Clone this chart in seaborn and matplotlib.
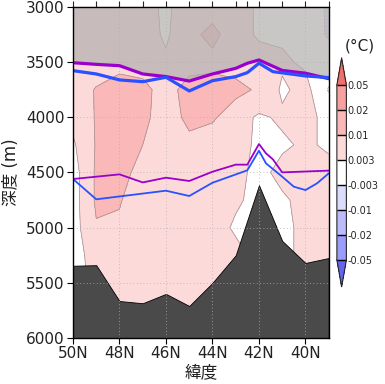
import numpy as np
import pandas as pd
import matplotlib
matplotlib.use("Agg")
import matplotlib.pyplot as plt
from matplotlib.colors import ListedColormap, BoundaryNorm
import seaborn as sns

# ---- datos ----
lats = [50, 49, 48, 47, 46, 45, 44, 43, 42, 41, 40, 39]
depths = [3000, 3250, 3500, 3750, 4000, 4250, 4500, 4750, 5000, 5250, 5500, 5750, 6000]
# anomalia de temperatura (grados C), filas = profundidad, columnas = latitud
temp = [
    [0.006, 0.006, 0.006, 0.005, 0.002, 0.006, 0.007, 0.006, 0.002, 0.002, 0.001, -0.004],
    [0.006, 0.005, 0.006, 0.006, 0.002, 0.008, 0.012, 0.006, 0.002, 0.002, 0.002, -0.004],
    [0.006, 0.006, 0.007, 0.007, 0.004, 0.007, 0.008, 0.007, 0.006, 0.004, 0.002, 0.001],
    [0.006, 0.0105, 0.014, 0.012, 0.007, 0.013, 0.013, 0.012, 0.009, 0.002, 0.005, -0.0035],
    [0.005, 0.0105, 0.013, 0.012, 0.006, 0.012, 0.011, 0.006, 0.002, 0.004, 0.005, 0.001],
    [0.002, 0.0105, 0.013, 0.010, 0.006, 0.008, 0.006, 0.005, 0.002, 0.002, 0.004, 0.002],
    [0.000, 0.011, 0.012, 0.008, 0.006, 0.006, 0.006, 0.005, 0.001, 0.005, 0.005, 0.005],
    [0.000, 0.011, 0.0105, 0.006, 0.006, 0.006, 0.006, 0.004, 0.001, 0.002, 0.005, 0.005],
    [0.000, 0.0095, 0.009, 0.006, 0.006, 0.006, 0.006, 0.002, 0.001, 0.001, 0.005, 0.005],
    [0.000, 0.006, 0.006, 0.006, 0.006, 0.006, 0.006, 0.005, 0.001, 0.001, 0.005, 0.005],
    [0.000, 0.005, 0.005, 0.006, 0.006, 0.006, 0.005, 0.005, 0.005, 0.005, 0.005, 0.005],
    [0.005, 0.005, 0.005, 0.005, 0.005, 0.005, 0.005, 0.005, 0.005, 0.005, 0.005, 0.005],
    [0.005, 0.005, 0.005, 0.005, 0.005, 0.005, 0.005, 0.005, 0.005, 0.005, 0.005, 0.005],
]
levels = [-0.05, -0.02, -0.01, -0.003, 0.003, 0.01, 0.02, 0.05]
level_labels = ["-0.05", "-0.02", "-0.01", "-0.003", "0.003", "0.01", "0.02", "0.05"]

bottom_lat = [50, 49, 48, 47, 46, 45, 44, 43, 42, 41, 40, 39]
bottom_depth = [5345, 5340, 5665, 5685, 5600, 5710, 5500, 5250, 4615, 5120, 5320, 5275]

up_purple_lat = [50, 49, 48, 47, 46, 45, 44, 43, 42.5, 42, 41, 40, 39]
up_purple = [3505, 3520, 3532, 3607, 3631, 3671, 3607, 3556, 3510, 3480, 3575, 3600, 3650]
up_blue_lat = [50, 49, 48, 47, 46, 45, 44, 43, 42.5, 42, 41.4, 40, 39]
up_blue = [3577, 3607, 3661, 3677, 3637, 3761, 3668, 3631, 3595, 3510, 3586, 3625, 3640]
low_purple_lat = [50, 48, 47, 46, 45, 44, 43, 42.5, 42, 41.7, 41.4, 41, 39]
low_purple = [4559, 4517, 4590, 4547, 4577, 4493, 4429, 4429, 4242, 4326, 4381, 4499, 4483]
low_blue_lat = [50, 49, 46, 45, 44, 42.5, 42, 41.7, 41, 40.5, 40, 39.5, 39]
low_blue = [4559, 4743, 4665, 4713, 4593, 4480, 4302, 4417, 4538, 4629, 4659, 4598, 4508]

station_lat = [50, 49, 48, 47, 46, 45, 44, 43, 42.5, 42, 41, 40, 39]

# ---- estilo ----
sns.set_style("ticks")
plt.rcParams["font.family"] = ["DejaVu Sans", "Noto Sans CJK JP"]
plt.rcParams["axes.unicode_minus"] = False

fig = plt.figure(figsize=(3.85, 3.84), dpi=100)
ax = fig.add_axes([0.1896, 0.1198, 0.6642, 0.862])
cax = fig.add_axes([0.875, 0.2526, 0.0247, 0.5964])

colors = ["#9c9cfc", "#bcbcfc", "#dcdcfc", "#ffffff", "#fddada", "#fbb8b8", "#f8a0a0"]
cmap = ListedColormap(colors)
cmap.set_under("#6464f0")
cmap.set_over("#f07070")
norm = BoundaryNorm(levels, cmap.N)

X, Y = np.meshgrid(lats, depths)
Z = np.array(temp)
cf = ax.contourf(X, Y, Z, levels=levels, cmap=cmap, norm=norm, extend="both", zorder=1)
ax.contour(X, Y, Z, levels=levels, colors="#a08c8c", linewidths=0.5, zorder=1.2)

# zona superior sombreada
ax.fill_between(up_purple_lat, 3000, up_purple, color="#b4b0b0", alpha=0.72, lw=0, zorder=1.5)

# topografia del fondo
ax.fill_between(bottom_lat, bottom_depth, 6000, color="#4a4a4a", edgecolor="black", lw=0.6, zorder=2)

lines = pd.DataFrame({"lat": up_purple_lat, "depth": up_purple})
sns.lineplot(data=lines, x="lat", y="depth", color="#9a00cc", lw=2.3, estimator=None, sort=False, ax=ax, zorder=3)
lines = pd.DataFrame({"lat": up_blue_lat, "depth": up_blue})
sns.lineplot(data=lines, x="lat", y="depth", color="#2a50ff", lw=2.3, estimator=None, sort=False, ax=ax, zorder=3)
lines = pd.DataFrame({"lat": low_purple_lat, "depth": low_purple})
sns.lineplot(data=lines, x="lat", y="depth", color="#9a00cc", lw=1.3, estimator=None, sort=False, ax=ax, zorder=3)
lines = pd.DataFrame({"lat": low_blue_lat, "depth": low_blue})
sns.lineplot(data=lines, x="lat", y="depth", color="#2a50ff", lw=1.3, estimator=None, sort=False, ax=ax, zorder=3)

ax.set_xlim(50, 39)
ax.set_ylim(6000, 3000)
ax.set_xticks([50, 48, 46, 44, 42, 40])
ax.set_xticklabels(["50N", "48N", "46N", "44N", "42N", "40N"])
ax.set_yticks([3000, 3500, 4000, 4500, 5000, 5500, 6000])
ax.tick_params(direction="out", length=4, width=0.8, labelsize=11, colors="black", labelcolor="#222222", pad=2)
ax.grid(True, ls=(0, (1, 3)), color="#b0b0b0", lw=0.6)
ax.set_axisbelow(False)
for s in ax.spines.values():
    s.set_linewidth(1.0)
    s.set_color("black")
    s.set_zorder(5)

top = ax.secondary_xaxis("top")
top.set_xticks(station_lat)
top.set_xticklabels([])
top.tick_params(direction="out", length=4, width=0.8)

ax.set_xlabel("緯度", fontsize=12, labelpad=1, color="#222222")
ax.set_ylabel("深度 (m)", fontsize=12, labelpad=4, color="#222222")

cb = fig.colorbar(cf, cax=cax, extendfrac=0.155, drawedges=True)
cb.set_ticks(levels)
cb.set_ticklabels(level_labels)
cb.ax.tick_params(length=0, labelsize=7, pad=1)
cb.outline.set_linewidth(0.8)
cb.dividers.set_color("black")
cb.dividers.set_linewidth(1.0)
fig.text(0.935, 0.88, "(°C)", ha="center", va="center", fontsize=11, color="#222222")

fig.savefig("out.png", dpi=100)
